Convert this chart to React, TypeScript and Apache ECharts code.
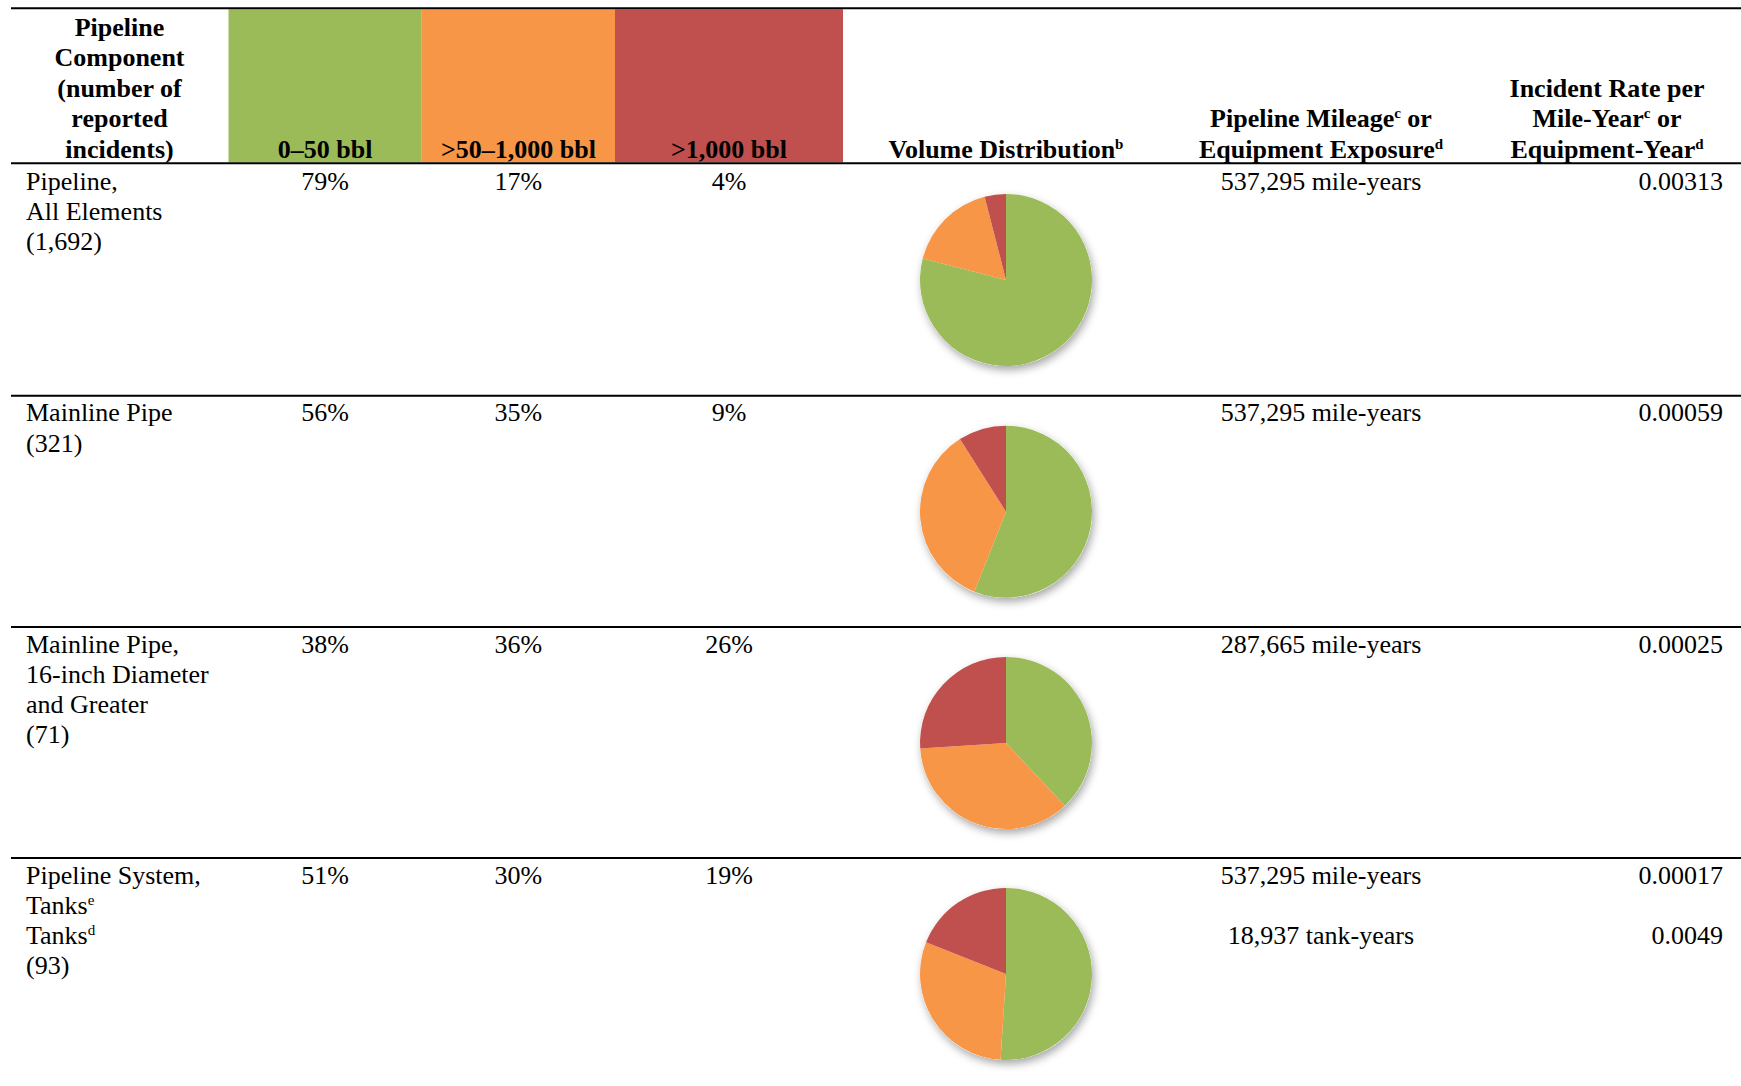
import React, { useEffect, useRef } from "react";
import * as echarts from "echarts";

// ---------- data ----------
const volumeBins = ["0–50 bbl", ">50–1,000 bbl", ">1,000 bbl"];
const binColors = ["#9BBB59", "#F79646", "#C0504D"];

const componentHeader = ["Pipeline", "Component", "(number of", "reported", "incidents)"];
const volumeHeader = ["Volume Distribution{sup|b}"];
const exposureHeader = ["Pipeline Mileage{sup|c} or", "Equipment Exposure{sup|d}"];
const rateHeader = ["Incident Rate per", "Mile-Year{sup|c} or", "Equipment-Year{sup|d}"];

const componentLabels = [
  ["Pipeline,", "All Elements", "(1,692)"],
  ["Mainline Pipe", "(321)"],
  ["Mainline Pipe,", "16-inch Diameter", "and Greater", "(71)"],
  ["Pipeline System,", "Tanks{sup|e}", "Tanks{sup|d}", "(93)"],
];
const share0to50 = [79, 56, 38, 51];
const share50to1000 = [17, 35, 36, 30];
const shareOver1000 = [4, 9, 26, 19];
const exposureLines = [
  ["537,295 mile-years"],
  ["537,295 mile-years"],
  ["287,665 mile-years"],
  ["537,295 mile-years", null, "18,937 tank-years"],
];
const rateLines = [
  ["0.00313"],
  ["0.00059"],
  ["0.00025"],
  ["0.00017", null, "0.0049"],
];

// ---------- layout ----------
const W = 1741;
const H = 1086;
const FONT = "'Liberation Serif', 'Times New Roman', serif";
const FS = 26;
const LINE = 30.3;
const lineLeft = 11;
const colEdges = [228.5, 421.8, 615, 843];
const compCenterX = 119.5;
const compLeftX = 26;
const pieX = 1006;
const pieR = 86;
const exposureX = 1321;
const rateRightX = 1723;
const topLineY = 8.3;
const headerTop = 9.3;
const headerBottom = 162.3;
const headerLineY = 163.3;
const headerLastLineY = 149;
const rowTops = [164, 395.7, 627, 858];
const rowLineYs = [395.7, 627, 858];
const firstLineOffset = 17;
const pieOffset = 116;

const rich = {
  sup: {
    fontSize: 15,
    fontFamily: FONT,
    verticalAlign: "top",
    lineHeight: 14,
    fill: "#000",
  },
};

function txt(text: string, x: number, y: number, align: string, bold: boolean) {
  return {
    type: "text",
    x,
    y,
    silent: true,
    z: 10,
    style: {
      text,
      fontSize: FS,
      fontFamily: FONT,
      fontWeight: bold ? "bold" : "normal",
      fill: "#000",
      textAlign: align,
      textVerticalAlign: "middle",
      rich: {
        sup: { ...rich.sup, fontWeight: bold ? "bold" : "normal" },
      },
    },
  };
}

function headerBlock(lines: string[], x: number) {
  const n = lines.length;
  return lines.map((l, i) => txt(l, x, headerLastLineY - (n - 1 - i) * 30.5, "center", true));
}

function buildOption() {
  const graphics: any[] = [];

  // header colored cells
  volumeBins.forEach((b, j) => {
    graphics.push({
      type: "rect",
      silent: true,
      z: 1,
      shape: { x: colEdges[j], y: headerTop, width: colEdges[j + 1] - colEdges[j], height: headerBottom - headerTop },
      style: { fill: binColors[j] },
    });
    graphics.push(txt(b, (colEdges[j] + colEdges[j + 1]) / 2, headerLastLineY, "center", true));
  });

  // rules
  [topLineY, headerLineY, ...rowLineYs].forEach((y) => {
    graphics.push({
      type: "line",
      silent: true,
      z: 5,
      shape: { x1: lineLeft, y1: y, x2: W, y2: y },
      style: { stroke: "#000", lineWidth: 2 },
    });
  });

  graphics.push(...headerBlock(componentHeader, compCenterX));
  graphics.push(...headerBlock(volumeHeader, pieX));
  graphics.push(...headerBlock(exposureHeader, exposureX));
  graphics.push(...headerBlock(rateHeader, 1607));

  const shares = [share0to50, share50to1000, shareOver1000];

  rowTops.forEach((top, i) => {
    const y0 = top + firstLineOffset;
    componentLabels[i].forEach((l, k) => graphics.push(txt(l, compLeftX, y0 + k * LINE, "left", false)));
    shares.forEach((arr, j) => {
      graphics.push(txt(arr[i] + "%", (colEdges[j] + colEdges[j + 1]) / 2, y0, "center", false));
    });
    exposureLines[i].forEach((l, k) => {
      if (l) graphics.push(txt(l, exposureX, y0 + k * LINE, "center", false));
    });
    rateLines[i].forEach((l, k) => {
      if (l) graphics.push(txt(l, rateRightX, y0 + k * LINE, "right", false));
    });
  });

  const series: any[] = [];
  rowTops.forEach((top, i) => {
    series.push({
      type: "pie",
      silent: true,
      z: 2,
      center: [pieX, top + pieOffset],
      radius: pieR,
      label: { show: false },
      labelLine: { show: false },
      data: [
        {
          value: 1,
          name: "shadow",
          itemStyle: {
            color: "#ffffff",
            shadowBlur: 8,
            shadowOffsetX: 2,
            shadowOffsetY: 4,
            shadowColor: "rgba(0,0,0,0.35)",
          },
        },
      ],
    });
    series.push({
      type: "pie",
      silent: true,
      z: 3,
      center: [pieX, top + pieOffset],
      radius: pieR,
      startAngle: 90,
      clockwise: true,
      label: { show: false },
      labelLine: { show: false },
      data: shares.map((arr, j) => ({
        value: arr[i],
        name: volumeBins[j],
        itemStyle: { color: binColors[j], borderWidth: 0 },
      })),
    });
  });

  return {
    animation: false,
    backgroundColor: "#ffffff",
    series,
    graphic: { elements: graphics },
  };
}

export default function App() {
  const ref = useRef<HTMLDivElement>(null);
  useEffect(() => {
    if (!ref.current) return;
    const chart = echarts.init(ref.current, undefined, { renderer: "svg" });
    chart.setOption(buildOption() as any);
    return () => chart.dispose();
  }, []);
  return (
    <div
      ref={ref}
      style={{ position: "absolute", left: 0, top: 0, width: W, height: H, background: "#fff" }}
    />
  );
}
